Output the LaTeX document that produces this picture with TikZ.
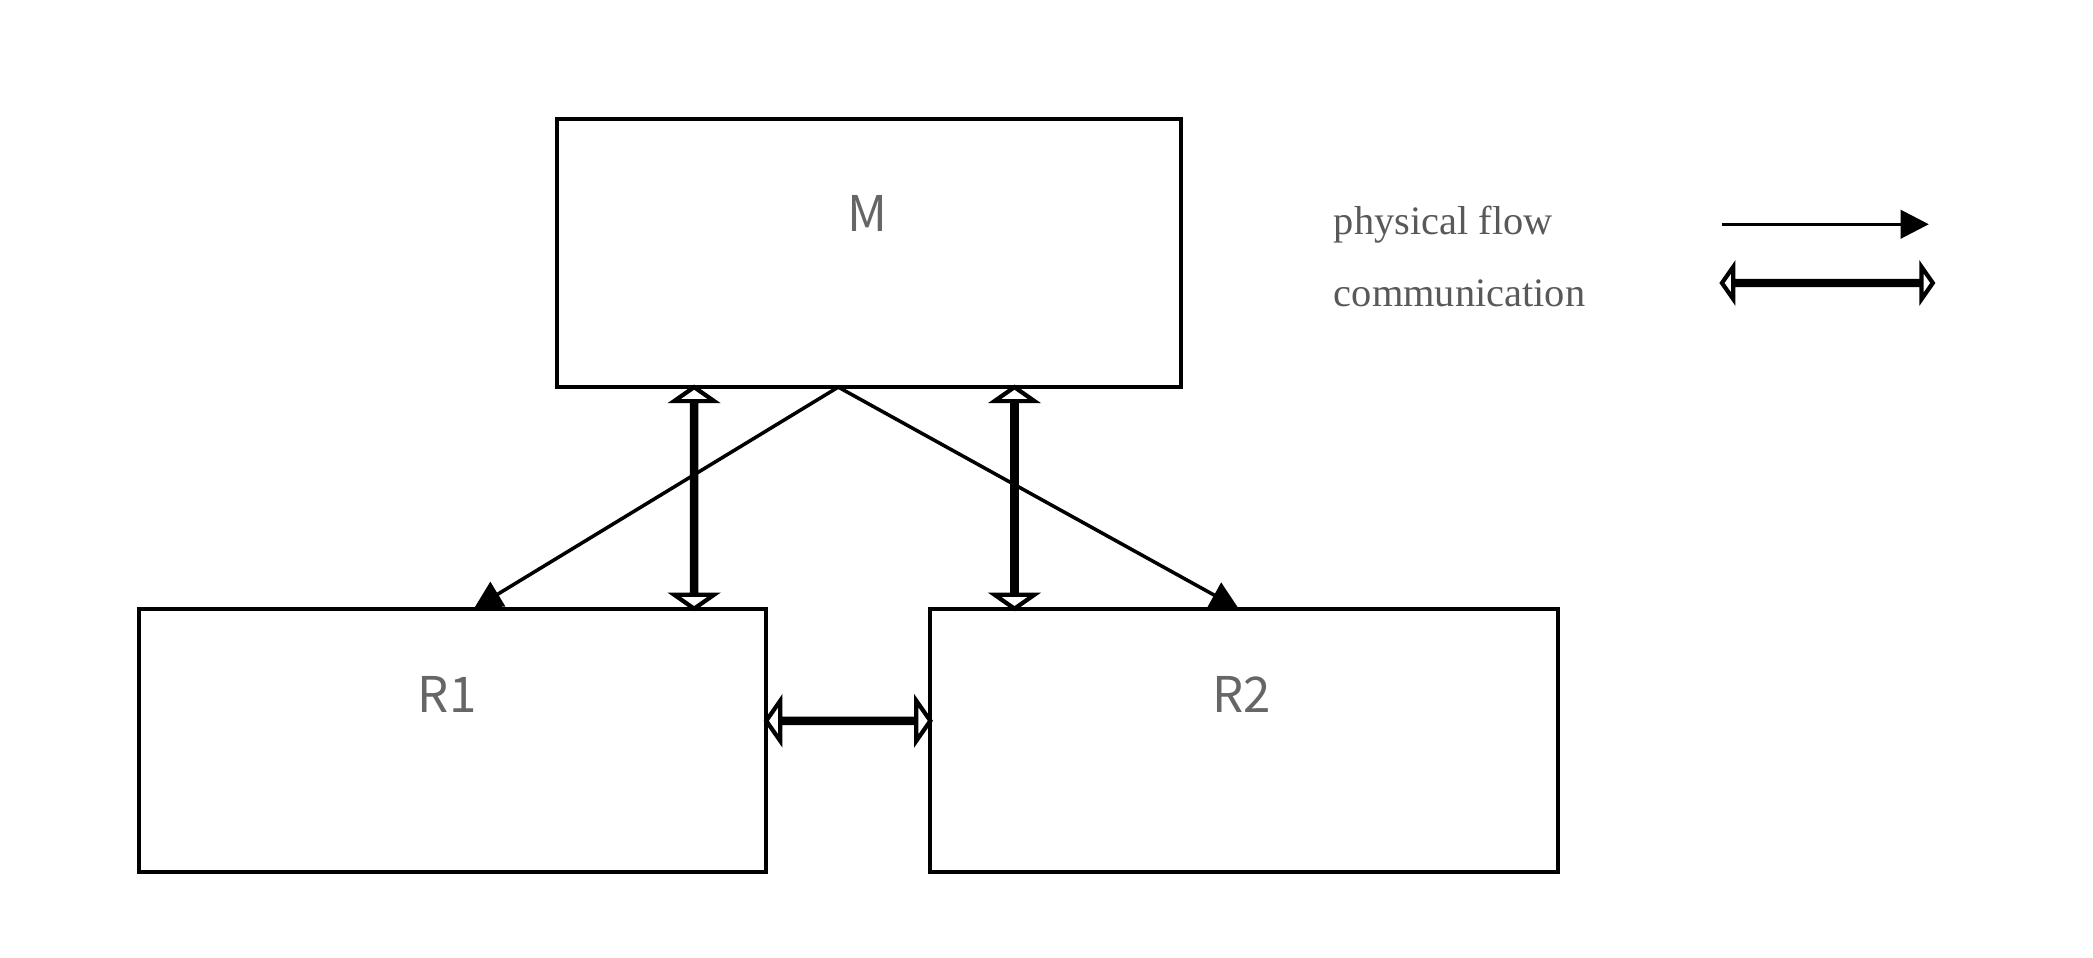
\documentclass[tikz,border=0pt]{standalone}
\usepackage{fontspec}
\setmainfont{Liberation Serif}
\newfontfamily\cjk{Noto Sans CJK SC}
\usetikzlibrary{shapes.arrows,arrows.meta}
\begin{document}
\begin{tikzpicture}[x=0.013348cm,y=-0.013348cm,
  box/.style={draw,line width=1.2pt,inner sep=0pt},
  lbl/.style={font=\cjk\fontsize{14}{16}\selectfont,text=black!60},
  flow/.style={line width=1pt,-{Triangle[length=8pt,width=8pt]}},
  comm/.style={double arrow,draw,line width=1.2pt,fill=white,inner sep=0pt,double arrow tip angle=110}]
\useasboundingbox (0,0) rectangle (1568,717);
\draw[box] (417,89) rectangle (885,290);
\draw[box] (104,456) rectangle (574,653);
\draw[box] (697,456) rectangle (1167,653);
\node[lbl] (M) at (650,160) {M};
\node[lbl] (R1) at (335,520) {R1};
\node[lbl] (R2) at (930,520) {R2};
\coordinate (mb) at (628,290);
\coordinate (r1t) at (355,456);
\coordinate (r2t) at (928,456);
\draw[flow] (mb) -- (r1t);
\draw[flow] (mb) -- (r2t);
\node[comm,rotate=90,minimum height=2.216cm,minimum width=0.4cm,double arrow head extend=0.17cm] (c1) at (520,373) {};
\node[comm,rotate=90,minimum height=2.216cm,minimum width=0.4cm,double arrow head extend=0.17cm] (c2) at (760,373) {};
\node[comm,minimum height=1.642cm,minimum width=0.3cm,double arrow head extend=0.18cm] (c3) at (635.5,540) {};
\node[anchor=west,font=\fontsize{11.5}{13}\selectfont,text=black!65] (t1) at (990,168) {physical flow};
\node[anchor=west,font=\fontsize{11.5}{13}\selectfont,text=black!65] (t2) at (990,220) {communication};
\coordinate (a1) at (1290,168);
\coordinate (a2) at (1445,168);
\draw[flow] (a1) -- (a2);
\node[comm,minimum height=2.109cm,minimum width=0.22cm,double arrow head extend=0.14cm] (c4) at (1369,212) {};
\end{tikzpicture}
\end{document}
